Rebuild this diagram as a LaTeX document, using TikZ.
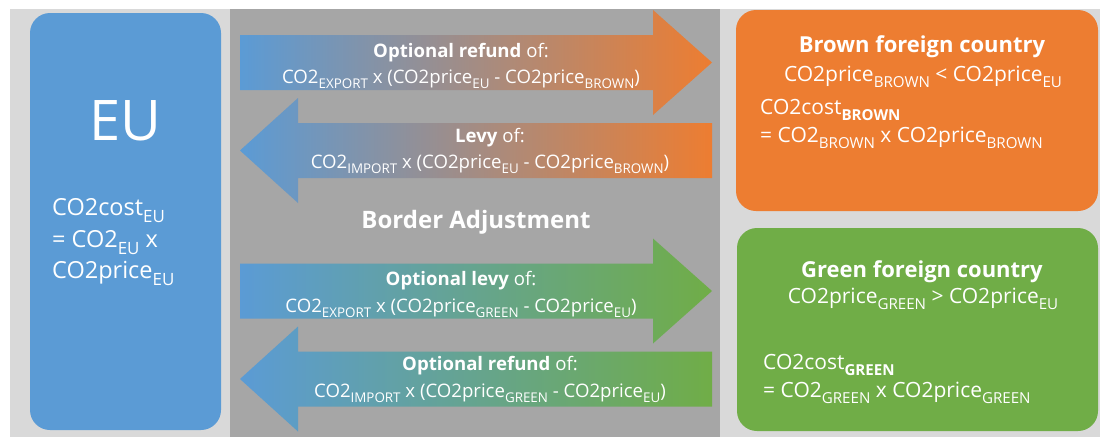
\documentclass[tikz,border=0pt]{standalone}
\usepackage{fontspec}
\setmainfont{Open Sans}
\usetikzlibrary{positioning}
\definecolor{eublue}{HTML}{5B9BD5}
\definecolor{brownor}{HTML}{ED7D31}
\definecolor{greenfc}{HTML}{70AD47}
\definecolor{mauve}{HTML}{A28BB8}
\definecolor{teal}{HTML}{64A48C}
\definecolor{lightbg}{HTML}{D9D9D9}
\definecolor{borderbg}{HTML}{A6A6A6}
\newcommand{\low}[1]{\raisebox{-0.3em}{\scalebox{0.72}{#1}}}
\tikzset{
  panel/.style={fill=#1, draw=none},
  countrybox/.style={fill=#1, draw=none, rounded corners=20pt},
  countrybox/.default=eublue,
  flowtext/.style={text=white, inner sep=0pt, anchor=base,
    font=\fontsize{18.6}{22}\selectfont},
  boxhead/.style={text=white, inner sep=0pt, anchor=base,
    font=\bfseries\fontsize{22}{26}\selectfont},
  boxtext/.style={text=white, inner sep=0pt,
    font=\fontsize{21}{25}\selectfont},
  eutext/.style={text=white, inner sep=0pt, anchor=base west,
    font=\fontsize{23.5}{28}\selectfont},
}

\begin{document}
\begin{tikzpicture}[x=1pt, y=-1pt]
  \useasboundingbox (0,0) rectangle (1100,437);
  \fill[white] (0,0) rectangle (1100,437);

  % Panels
  \fill[panel=lightbg] (10,9) rectangle (1100,437);
  \fill[panel=borderbg] (230,9) rectangle (720,437);

  % Country boxes
  \fill[countrybox=eublue] (30,13) rectangle (221,430);
  \fill[countrybox=brownor] (736,10) rectangle (1098,211);
  \fill[countrybox=greenfc] (737,228) rectangle (1098,431);

  % Arrows to/from the brown country
  \shade[left color=eublue, middle color=mauve, right color=brownor]
    (240,35) -- (653,35) -- (653,10) -- (712,62.5) -- (653,115) -- (653,90) -- (240,90) -- cycle;
  \shade[left color=eublue, middle color=mauve, right color=brownor]
    (712,123) -- (298,123) -- (298,98) -- (240,150.5) -- (298,203) -- (298,178) -- (712,178) -- cycle;

  % Arrows to/from the green country
  \shade[left color=eublue, middle color=teal, right color=greenfc]
    (240,263.5) -- (653,263.5) -- (653,238.5) -- (712,291) -- (653,343.5) -- (653,318.5) -- (240,318.5) -- cycle;
  \shade[left color=eublue, middle color=teal, right color=greenfc]
    (712,351.5) -- (298,351.5) -- (298,326.5) -- (240,379) -- (298,431.5) -- (298,406.5) -- (712,406.5) -- cycle;

  % EU
  \node[text=white, inner sep=0pt, anchor=base, font=\fontsize{56}{64}\selectfont] (eu) at (125,140) {EU};
  \node[eutext] (eucost) at (52,215) {CO2cost\low{EU}};
  \node[eutext] (euco) at (52,247) {= CO2\low{EU} x};
  \node[eutext] (euprice) at (52,278) {CO2price\low{EU}};

  % Brown foreign country
  \node[boxhead] (brownhead) at (922,52) {Brown foreign country};
  \node[boxtext, anchor=base] (brownprice) at (923,81) {CO2price\low{BROWN} < CO2price\low{EU}};
  \node[boxtext, anchor=base west] (browncost) at (760,114) {CO2cost\low{\textbf{BROWN}}};
  \node[boxtext, anchor=base west] (brownco) at (760,142) {= CO2\low{BROWN} x CO2price\low{BROWN}};

  % Green foreign country
  \node[boxhead] (greenhead) at (922,277) {Green foreign country};
  \node[boxtext, anchor=base] (greenprice) at (923,303) {CO2price\low{GREEN} > CO2price\low{EU}};
  \node[boxtext, anchor=base west] (greencost) at (763,369) {CO2cost\low{\textbf{GREEN}}};
  \node[boxtext, anchor=base west] (greenco) at (763,397) {= CO2\low{GREEN} x CO2price\low{GREEN}};

  % Arrow labels
  \node[flowtext] (refundb) at (461,57) {\textbf{Optional refund} of:};
  \node[flowtext] (refundbf) at (461,83) {CO2\low{EXPORT} x (CO2price\low{EU} - CO2price\low{BROWN})};
  \node[flowtext] (levyb) at (490,142) {\textbf{Levy} of:};
  \node[flowtext] (levybf) at (490,168) {CO2\low{IMPORT} x (CO2price\low{EU} - CO2price\low{BROWN})};
  \node[flowtext] (levyg) at (461,285) {\textbf{Optional levy} of:};
  \node[flowtext] (levygf) at (461,312) {CO2\low{EXPORT} x (CO2price\low{GREEN} - CO2price\low{EU})};
  \node[flowtext] (refundg) at (490,370) {\textbf{Optional refund} of:};
  \node[flowtext] (refundgf) at (490,397) {CO2\low{IMPORT} x (CO2price\low{GREEN} - CO2price\low{EU})};

  % Middle title
  \node[text=white, inner sep=0pt, anchor=base, font=\bfseries\fontsize{24}{28}\selectfont] (border) at (476,228) {Border Adjustment};
\end{tikzpicture}
\end{document}
